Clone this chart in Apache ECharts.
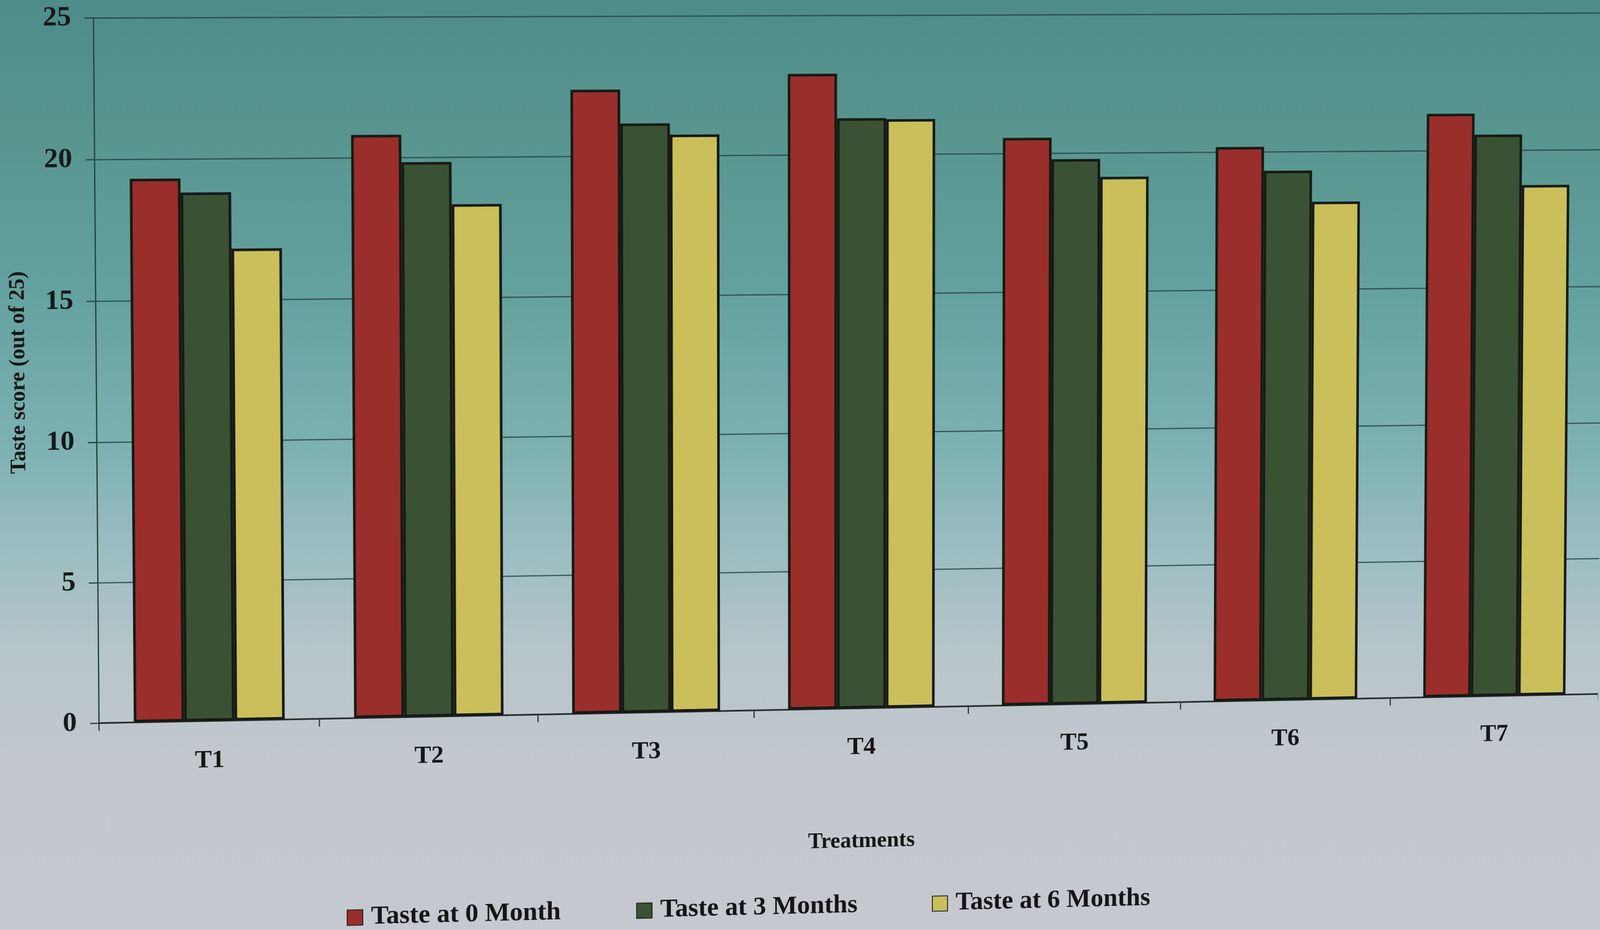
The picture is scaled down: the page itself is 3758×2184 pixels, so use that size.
<!DOCTYPE html>
<html>
<head>
<meta charset="utf-8">
<title>Taste score by treatment</title>
<script src="https://cdn.jsdelivr.net/npm/echarts@6/dist/echarts.min.js"></script>
<style>
  html, body {
    margin: 0;
    padding: 0;
    width: 3758px;
    height: 2184px;
    overflow: hidden;
    background: linear-gradient(to bottom,
      #4e8c8a 0%, #58958f 14%, #64a2a0 32%, #7db1b2 48%,
      #9ebec2 60%, #b6c5ca 70%, #c2c8ce 82%, #c6c9cf 100%);
  }
  #chart {
    position: absolute;
    left: 0;
    top: 0;
    width: 3758px;
    height: 2184px;
    transform-origin: 0 0;
  }
</style>
</head>
<body>
<div id="chart"></div>
<script>
// Treatments on the category axis
const treatments = ['T1', 'T2', 'T3', 'T4', 'T5', 'T6', 'T7'];

// Series names
const seriesNames = ['Taste at 0 Month', 'Taste at 3 Months', 'Taste at 6 Months'];

// Taste scores (out of 25)
const taste0Month  = [19.32, 20.82, 22.38, 22.91, 20.57, 20.19, 21.35];
const taste3Months = [18.82, 19.84, 21.17, 21.31, 19.79, 19.32, 20.58];
const taste6Months = [16.82, 18.33, 20.76, 21.27, 19.14, 18.18, 18.73];

// Value axis range
const yMin = 0;
const yMax = 25;
const yStep = 5;

// Plot rectangle in page pixels
const plot = { left: 226, top: 36, width: 3536, height: 1628 };

// Where the plot corners sit on the printed page (slightly skewed sheet)
const sheetCorners = [[219, 42], [3769, 30], [3756, 1629], [232, 1698]];

const barColors = ['#9a2e2b', '#3a5233', '#cbbf5c'];
const font = '"Liberation Serif", "DejaVu Serif", serif';

// Projective map of the flat chart onto the skewed sheet
function homography(src, dst) {
  const A = [], b = [];
  for (let i = 0; i < 4; i++) {
    const [x, y] = src[i], [u, v] = dst[i];
    A.push([x, y, 1, 0, 0, 0, -u * x, -u * y]); b.push(u);
    A.push([0, 0, 0, x, y, 1, -v * x, -v * y]); b.push(v);
  }
  const n = 8;
  for (let c = 0; c < n; c++) {
    let p = c;
    for (let r = c + 1; r < n; r++) if (Math.abs(A[r][c]) > Math.abs(A[p][c])) p = r;
    [A[c], A[p]] = [A[p], A[c]]; [b[c], b[p]] = [b[p], b[c]];
    for (let r = 0; r < n; r++) {
      if (r === c) continue;
      const f = A[r][c] / A[c][c];
      for (let k = c; k < n; k++) A[r][k] -= f * A[c][k];
      b[r] -= f * b[c];
    }
  }
  return b.map((v, i) => v / A[i][i]);
}

const rectCorners = [
  [plot.left, plot.top],
  [plot.left + plot.width, plot.top],
  [plot.left + plot.width, plot.top + plot.height],
  [plot.left, plot.top + plot.height]
];
const h = homography(rectCorners, sheetCorners);
document.getElementById('chart').style.transform =
  'matrix3d(' + [h[0], h[3], 0, h[6], h[1], h[4], 0, h[7], 0, 0, 1, 0, h[2], h[5], 0, 1].join(',') + ')';

const chart = echarts.init(document.getElementById('chart'), null, { renderer: 'canvas' });

const seriesData = [taste0Month, taste3Months, taste6Months];

chart.setOption({
  backgroundColor: 'transparent',
  animation: false,
  textStyle: { fontFamily: font },
  grid: {
    left: plot.left,
    top: plot.top,
    width: plot.width,
    height: plot.height,
    containLabel: false
  },
  legend: {
    data: seriesNames,
    left: 786,
    top: 2096,
    icon: 'rect',
    itemWidth: 36,
    itemHeight: 36,
    itemGap: 176,
    textStyle: { fontFamily: font, fontSize: 61, fontWeight: 'bold', color: '#151515', padding: [0, 0, 0, 14] }
  },
  xAxis: {
    type: 'category',
    data: treatments,
    boundaryGap: true,
    name: 'Treatments',
    nameLocation: 'middle',
    nameGap: 290,
    nameTextStyle: { fontFamily: font, fontSize: 52, fontWeight: 'bold', color: '#151515' },
    axisLine: { show: true, lineStyle: { color: '#2b3030', width: 4 } },
    axisTick: { show: true, length: 18, lineStyle: { color: '#3a4040', width: 3 } },
    axisLabel: { margin: 64, fontFamily: font, fontSize: 58, fontWeight: 'bold', color: '#151515' },
    splitLine: { show: false }
  },
  yAxis: {
    type: 'value',
    min: yMin,
    max: yMax,
    interval: yStep,
    name: 'Taste score (out of 25)',
    nameLocation: 'middle',
    nameGap: 150,
    nameTextStyle: { fontFamily: font, fontSize: 50, fontWeight: 'bold', color: '#151515' },
    axisLine: { show: true, lineStyle: { color: '#2a4444', width: 3 } },
    axisTick: { show: true, length: 20, lineStyle: { color: '#2a4a4a', width: 3 } },
    axisLabel: { margin: 50, fontFamily: font, fontSize: 64, fontWeight: 'bold', color: '#141a1a' },
    splitLine: { show: true, lineStyle: { color: 'rgba(28,62,62,0.75)', width: 3 } }
  },
  series: seriesNames.map((name, i) => ({
    name: name,
    type: 'bar',
    data: seriesData[i],
    barWidth: '22.8%',
    barGap: '0%',
    itemStyle: { color: barColors[i], borderColor: '#161a14', borderWidth: 6 }
  }))
});
</script>
</body>
</html>
